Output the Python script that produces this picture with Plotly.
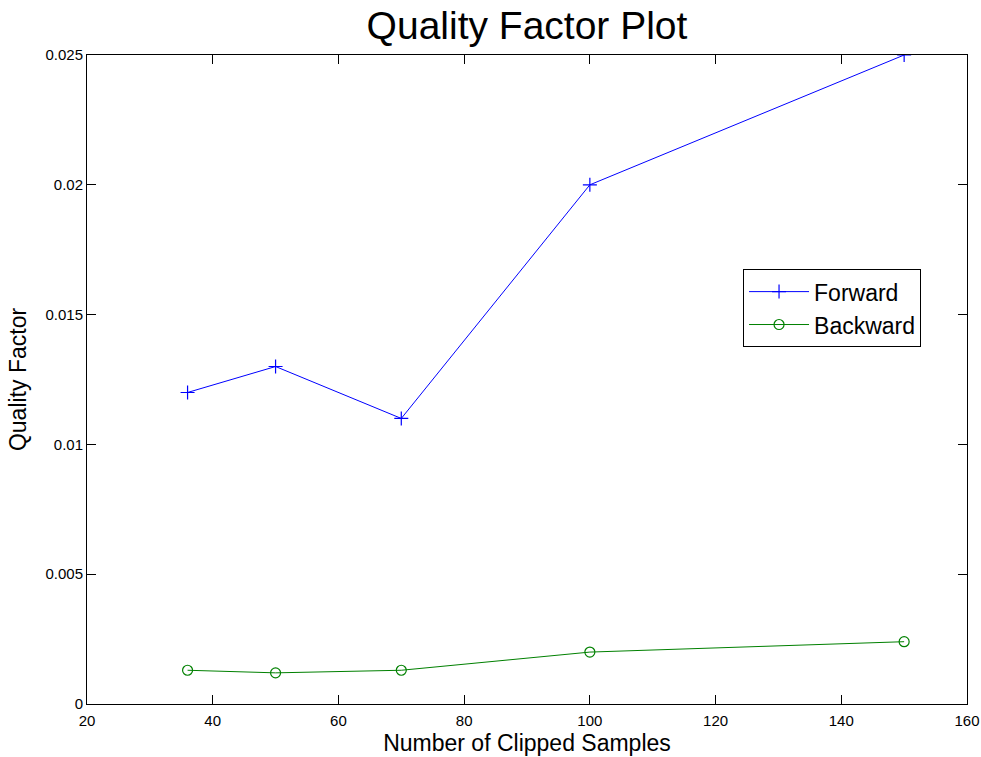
import plotly.graph_objects as go

# Number of clipped samples and the measured quality factors
clipped_samples = [36, 50, 70, 100, 150]
forward_q = [0.012, 0.013, 0.011, 0.020, 0.025]
backward_q = [0.0013, 0.0012, 0.0013, 0.0020, 0.0024]

x_ticks = [20, 40, 60, 80, 100, 120, 140, 160]
y_ticks = [0, 0.005, 0.01, 0.015, 0.02, 0.025]
y_tick_text = ["0", "0.005", "0.01", "0.015", "0.02", "0.025"]

FONT = "Liberation Sans, Arial, sans-serif"

fig = go.Figure()
fig.add_trace(go.Scatter(
    x=clipped_samples, y=forward_q, name="Forward",
    mode="lines+markers",
    line=dict(color="#0000ff", width=1),
    marker=dict(symbol="cross-thin-open", size=10,
                line=dict(color="#0000ff", width=1.2)),
))
fig.add_trace(go.Scatter(
    x=clipped_samples, y=backward_q, name="Backward",
    mode="lines+markers",
    line=dict(color="#008000", width=1),
    marker=dict(symbol="circle-open", size=10,
                line=dict(color="#008000", width=1.2)),
))

axis_common = dict(
    showline=True, linecolor="black", linewidth=1, mirror="allticks",
    ticks="inside", ticklen=9, tickcolor="black", tickwidth=1,
    showgrid=False, zeroline=False, automargin=False,
    tickfont=dict(family=FONT, size=15, color="black"),
)

fig.update_layout(
    width=981, height=757,
    paper_bgcolor="white", plot_bgcolor="white",
    margin=dict(l=87, r=14, t=55, b=53),
    title=dict(text="Quality Factor Plot", xref="paper", x=0.5, xanchor="center",
               yref="container", y=0.966, yanchor="middle",
               font=dict(family=FONT, size=39, color="black")),
    xaxis=dict(range=[20, 160], tickvals=x_ticks, ticklabelstandoff=3,
               title=dict(text="Number of Clipped Samples", standoff=6,
                          font=dict(family=FONT, size=23, color="black")),
               **axis_common),
    yaxis=dict(range=[0, 0.025], tickvals=y_ticks, ticktext=y_tick_text,
               title=dict(text="Quality Factor", standoff=12,
                          font=dict(family=FONT, size=23, color="black")),
               **axis_common),
    legend=dict(x=0.7455, y=0.670, xanchor="left", yanchor="top",
                bgcolor="white", bordercolor="black", borderwidth=1,
                font=dict(family=FONT, size=23, color="black"),
                itemwidth=60, tracegroupgap=0),
    showlegend=True,
)

fig.write_html("out.html")
